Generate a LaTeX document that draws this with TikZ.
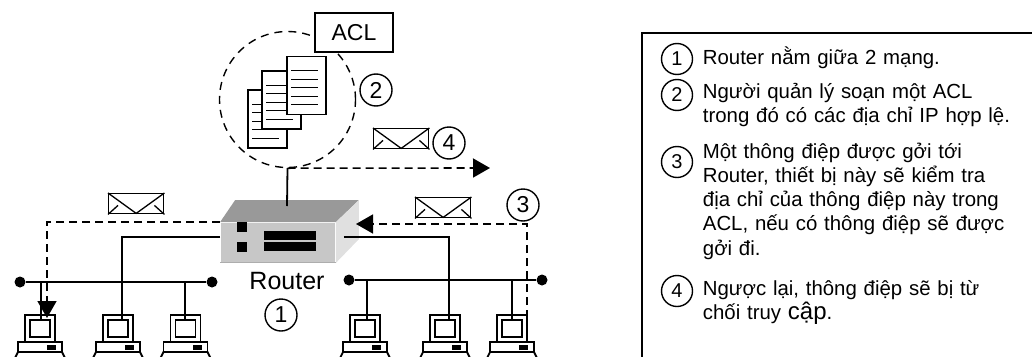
\documentclass[tikz,border=0pt]{standalone}
\usepackage{fontspec}
\setmainfont{Liberation Sans}
\usetikzlibrary{arrows.meta, positioning, calc}

\begin{document}
\begin{tikzpicture}[
    x=1pt, y=-1pt, line width=1.8pt,
    num/.style={circle, draw, line width=1.4pt, inner sep=0pt, minimum size=32pt,
      font=\fontsize{23}{23}\selectfont},
    keynum/.style={num, minimum size=31pt, font=\fontsize{20}{20}\selectfont},
    wire/.style={line width=1.8pt},
    msgpath/.style={dash pattern=on 8pt off 5pt, line width=1.6pt},
    tip/.style={-{Triangle[length=17pt, width=19pt]}},
    dot/.style={circle, fill, inner sep=0pt, minimum size=11pt},
    page/.style={draw, fill=white, line width=1.4pt, minimum width=39pt,
      minimum height=58pt, inner sep=0pt},
    env/.style={draw, fill=white, line width=1.4pt, minimum width=55pt,
      minimum height=20pt, inner sep=0pt, anchor=north west},
    rfront/.style={fill=black!22, minimum width=114pt, minimum height=39pt, inner sep=0pt},
    legend/.style={anchor=base west, text width=330pt, align=left, inner sep=0pt,
      font=\fontsize{20.4}{24.3}\selectfont},
  ]
  \useasboundingbox (0,0) rectangle (1032,356);

  % hosts on both segments
  \foreach \nm/\cx/\dx in {pcA/40/41, pcB/118/122, pcC/185.5/185,
                           pcD/365/367, pcE/445/449, pcF/512/512}{
    \draw[fill=white] (\cx-22,352) -- (\cx-26,360) -- (\cx+26,360) -- (\cx+22,352) -- cycle;
    \draw[fill=white] (\cx-15,315) rectangle (\cx+15,342);
    \draw[line width=1.5pt] (\cx-10,320) rectangle (\cx+10,337);
    \draw[fill=white] (\cx-22,342) rectangle (\cx+22,352);
    \fill (\cx+7,345) rectangle (\cx+16,350);
    \coordinate (\nm) at (\dx,320);
  }

  % the router
  \node[rfront] (router) at (278,242.5) {};
  \fill[black!40] (router.north west) -- ++(15,-22) -- ($(router.north east)+(23,-22)$)
    -- (router.north east) -- cycle;
  \fill[black!12] (router.north east) -- ++(23,-22) -- ++(0,39) -- (router.south east) -- cycle;
  \draw[black!32, line width=1pt] (router.south west) -- (router.south east);
  \fill ($(router.north west)+(17,0)$) rectangle ++(10,10);
  \fill ($(router.north west)+(17,20)$) rectangle ++(10,10);
  \fill ($(router.north west)+(44,9)$) rectangle ++(52,9);
  \fill ($(router.north west)+(44,20)$) rectangle ++(52,9);
  \coordinate (rtop) at (287,206);
  \node[anchor=base, font=\fontsize{25}{25}\selectfont] (rlabel) at (287,289) {Router};
  \node[num] (n1) at (281,315) {1};

  % the two buses
  \node[dot] (busL1) at (20,282) {};
  \node[dot] (busL2) at (212,282) {};
  \node[dot] (busR1) at (349,280) {};
  \node[dot] (busR2) at (542,280) {};
  \draw[wire] (busL1) -- (busL2);
  \draw[wire] (busR1) -- (busR2);
  \foreach \pc/\bus in {pcA/busL1, pcC/busL1, pcD/busR1, pcF/busR1}
    \draw[wire] (\pc) -- (\pc |- \bus);
  \draw[wire] ([yshift=5.5pt]router.west) -| (pcB);
  \draw[wire] ([xshift=8pt, yshift=5.5pt]router.east) -| (pcE);

  % access list
  \node[draw, circle, dash pattern=on 8pt off 6pt, line width=1.4pt, minimum size=136pt,
    inner sep=0pt] (acl) at (287.5,99.5) {};
  \foreach \p/\x/\y in {docA/267.5/119, docB/281.5/100, docC/306.5/85.5}{
    \node[page] (\p) at (\x,\y) {};
    \foreach \k in {0,...,4}
      \draw[line width=1.3pt] ($(\p.north west)+(5,15+8.5*\k)$) -- ++(27,0);
  }
  \node[draw, fill=white, line width=1.5pt, minimum width=78pt, minimum height=39pt,
    inner sep=0pt, font=\fontsize{23}{23}\selectfont] (acltag) at (354,32.5) {ACL};
  \node[num] (n2) at (376,90) {2};
  \draw[wire] (acl.south) -- (rtop);

  % messages
  \foreach \nm/\x/\y in {envL/108/193, envR/415/197, envT/373/128}{
    \node[env] (\nm) at (\x,\y) {};
    \draw[line width=1.3pt] (\nm.north west) -- ($(\nm.south)+(0,-1)$) -- (\nm.north east);
    \draw[line width=1.3pt] (\nm.south west) -- ++(10,-9);
    \draw[line width=1.3pt] (\nm.south east) -- ++(-10,-9);
  }
  \node[num] (n3) at (523,205) {3};
  \node[num] (n4) at (449,143) {4};
  \coordinate (m3) at (527,318);
  \coordinate (rin) at (356,224);
  \coordinate (pcAin) at (47,318);
  \coordinate (rej) at (490,168);
  \draw[msgpath, tip] (m3) |- (rin);
  \draw[msgpath, tip] (router.north west) -| (pcAin);
  \draw[msgpath, tip] (acl.south) -- (rej);

  % steps
  \draw[line width=1.5pt] (642,362) -- (642,33) -- (1040,33);
  \node[keynum] (k1) at (677,59) {1};
  \node[keynum] (k2) at (677,95) {2};
  \node[keynum] (k3) at (677,162) {3};
  \node[keynum] (k4) at (677,291) {4};
  \node[legend] (t1) at (702,64) {Router nằm giữa 2 mạng.};
  \node[legend] (t2) at (702,98) {Người quản lý soạn một ACL\\trong đó có các địa chỉ IP hợp lệ.};
  \node[legend] (t3) at (702,158) {Một thông điệp được gởi tới\\Router, thiết bị này sẽ kiểm tra\\địa chỉ của thông điệp này trong\\ACL, nếu có thông điệp sẽ được\\gởi đi.};
  \node[legend] (t4) at (702,295) {Ngược lại, thông điệp sẽ bị từ\\chối truy {\fontsize{24}{24.3}\selectfont cập}.};
\end{tikzpicture}
\end{document}
